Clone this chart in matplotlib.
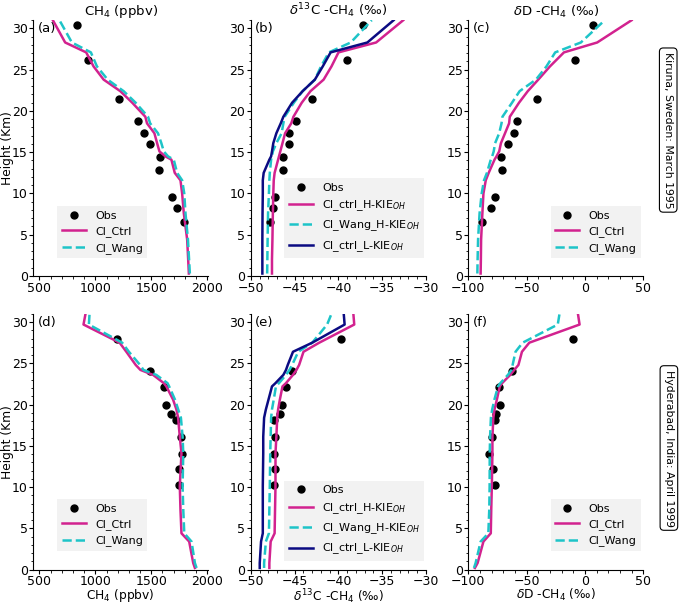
import matplotlib
matplotlib.use("Agg")
import matplotlib.pyplot as plt
from matplotlib.ticker import AutoMinorLocator, MultipleLocator

# ---------------- Kiruna, Sweden: March 1995 ----------------
kir_obs_z = [30.4, 26.2, 21.5, 18.8, 17.3, 16.0, 14.4, 12.9, 9.6, 8.3, 6.6]
kir_obs_ch4 = [835, 934, 1214, 1384, 1438, 1486, 1576, 1567, 1689, 1731, 1791]
kir_obs_d13c = [-37.2, -39.0, -43.0, -44.8, -45.6, -45.6, -46.3, -46.3, -47.3, -47.5, -47.8]
kir_obs_dd = [6.9, -8.9, -41.1, -58.3, -60.6, -65.8, -72.1, -70.7, -77.3, -80.7, -88.5]

kir_z = [0.3, 2.0, 4.4, 7.6, 10.0, 11.6, 12.5, 14.1, 14.5, 15.1, 16.1, 17.3, 18.5,
         19.3, 21.0, 22.4, 23.8, 25.4, 27.1, 28.3, 31.0]
kir_ch4_ctrl = [1836, 1830, 1821, 1791, 1776, 1761, 1710, 1680, 1626, 1573, 1552, 1528,
                1462, 1447, 1330, 1223, 1074, 984, 918, 730, 620]
kir_ch4_wang = [1845, 1838, 1828, 1806, 1795, 1776, 1731, 1701, 1650, 1612, 1590, 1560,
                1490, 1471, 1360, 1253, 1110, 1014, 960, 790, 679]
kir_d13c_ctrl_h = [-47.6, -47.6, -47.55, -47.5, -47.45, -47.4, -47.3, -46.9, -46.8, -46.65,
                   -46.4, -46.1, -45.4, -45.15, -44.2, -43.2, -41.7, -40.8, -40.0, -35.7, -32.6]
kir_d13c_wang_h = [-48.15, -48.13, -48.1, -48.05, -47.95, -47.9, -47.85, -47.7, -47.6, -47.5,
                   -47.1, -46.5, -46.3, -46.15, -45.1, -44.1, -42.7, -42.0, -41.1, -38.6, -36.2]
kir_d13c_ctrl_l = [-48.7, -48.7, -48.7, -48.68, -48.65, -48.65, -48.55, -47.9, -47.7, -47.6,
                   -47.45, -47.1, -46.6, -46.3, -45.3, -44.1, -42.7, -41.8, -40.9, -36.7, -33.7]
kir_dd_ctrl = [-89.4, -89.2, -89.0, -87.9, -87.0, -85.0, -82.5, -77.5, -75.8, -73.5, -72.0,
               -68.5, -65.0, -64.4, -56.5, -49.0, -40.0, -30.0, -18.0, 10.5, 40.0]
kir_dd_wang = [-92.2, -92.0, -91.6, -90.3, -88.5, -86.5, -84.0, -80.7, -79.5, -78.2, -77.0,
               -73.5, -71.5, -70.7, -62.5, -56.0, -42.0, -33.0, -25.5, -3.5, 17.0]

# ---------------- Hyderabad, India: April 1999 ----------------
hyd_obs_z = [27.9, 24.1, 22.1, 19.9, 18.85, 18.1, 16.1, 14.0, 12.2, 10.2]
hyd_obs_ch4 = [1193, 1486, 1614, 1635, 1674, 1719, 1764, 1773, 1746, 1746]
hyd_obs_d13c = [-39.7, -45.3, -46.0, -46.5, -46.7, -47.4, -47.2, -47.4, -47.3, -47.4]
hyd_obs_dd = [-10.3, -62.1, -73.6, -72.7, -76.4, -77.3, -79.3, -82.2, -78.4, -77.0]

hyd_z = [0.2, 0.8, 3.4, 4.4, 7.3, 10.1, 14.1, 16.1, 18.4, 19.4, 20.6, 22.2, 22.6, 23.6,
         24.2, 24.8, 26.4, 27.5, 29.7, 31.0]
hyd_ch4_ctrl = [1890, 1875, 1839, 1770, 1761, 1755, 1770, 1755, 1740, 1725, 1695, 1635,
                1612, 1516, 1403, 1361, 1277, 1217, 894, 912]
hyd_ch4_wang = [1905, 1890, 1860, 1795, 1786, 1780, 1786, 1780, 1765, 1741, 1712, 1660,
                1645, 1545, 1430, 1400, 1300, 1240, 942, 948]
hyd_d13c_ctrl_h = [-47.9, -47.9, -47.75, -47.3, -47.25, -47.2, -47.2, -47.1, -47.0, -46.9,
                   -46.7, -46.4, -46.0, -45.2, -44.8, -44.5, -44.0, -42.2, -38.2, -38.3]
hyd_d13c_wang_h = [-48.5, -48.5, -48.3, -47.95, -47.9, -47.85, -47.8, -47.75, -47.7, -47.6,
                   -47.4, -47.15, -46.8, -46.0, -45.6, -45.3, -44.6, -43.0, -41.3, -40.8]
hyd_d13c_ctrl_l = [-49.0, -49.0, -48.85, -48.65, -48.65, -48.65, -48.6, -48.6, -48.5, -48.3,
                   -48.0, -47.6, -47.2, -46.3, -46.0, -45.8, -45.2, -43.0, -39.3, -39.4]
hyd_dd_ctrl = [-94.3, -92.0, -87.0, -80.7, -80.3, -79.8, -79.3, -79.3, -78.5, -77.5, -75.5,
               -73.0, -71.0, -64.0, -60.6, -57.0, -54.0, -47.7, -4.6, -6.0]
hyd_dd_wang = [-95.1, -93.7, -89.4, -82.8, -82.0, -81.7, -81.6, -81.3, -80.6, -79.5, -77.6,
               -74.5, -72.5, -66.0, -63.0, -62.0, -59.5, -53.4, -23.3, -21.8]

panel_letters = ["(a)", "(b)", "(c)", "(d)", "(e)", "(f)"]
col_titles = ["CH$_4$ (ppbv)", r"$\delta^{13}$C -CH$_4$ (‰)", r"$\delta$D -CH$_4$ (‰)"]
site_labels = ["Kiruna, Sweden: March 1995", "Hyderabad, India: April 1999"]

C_CTRL = "#d2228f"
C_WANG = "#1ec4c8"
C_LOW = "#0b0b82"

plt.rcParams["font.family"] = ["DejaVu Sans"]
plt.rcParams["font.size"] = 9

fig = plt.figure(figsize=(6.85, 6.05), dpi=100)
lefts = [0.0486, 0.3664, 0.6836]
width = 0.2555
bottoms = [0.5438, 0.0585]
height = 0.4228

axes = [[fig.add_axes([l, b, width, height]) for l in lefts] for b in bottoms]

xlims = [(445, 2010), (-50, -30), (-100, 50)]
xmajor = [500, 5, 50]


def style(ax, col):
    ax.set_ylim(0, 31)
    ax.set_xlim(*xlims[col])
    ax.xaxis.set_major_locator(MultipleLocator(xmajor[col]))
    ax.yaxis.set_major_locator(MultipleLocator(5))
    ax.xaxis.set_minor_locator(AutoMinorLocator())
    ax.yaxis.set_minor_locator(AutoMinorLocator())
    for s in ["top", "right"]:
        ax.spines[s].set_visible(False)
    ax.tick_params(which="major", labelsize=9, pad=1, length=3)
    ax.tick_params(which="minor", length=1.8)


leg_kw = dict(fontsize=8, numpoints=1, handlelength=2.2, fancybox=False,
              facecolor="#f2f2f2", edgecolor="none", framealpha=1, borderaxespad=0)

data = [
    dict(obs_z=kir_obs_z, obs=[kir_obs_ch4, kir_obs_d13c, kir_obs_dd], z=kir_z,
         ch4=[kir_ch4_ctrl, kir_ch4_wang],
         d13c=[kir_d13c_ctrl_h, kir_d13c_wang_h, kir_d13c_ctrl_l],
         dd=[kir_dd_ctrl, kir_dd_wang], legy=[0.07, 0.07, 0.07]),
    dict(obs_z=hyd_obs_z, obs=[hyd_obs_ch4, hyd_obs_d13c, hyd_obs_dd], z=hyd_z,
         ch4=[hyd_ch4_ctrl, hyd_ch4_wang],
         d13c=[hyd_d13c_ctrl_h, hyd_d13c_wang_h, hyd_d13c_ctrl_l],
         dd=[hyd_dd_ctrl, hyd_dd_wang], legy=[0.073, 0.034, 0.073]),
]

for r, d in enumerate(data):
    z = d["z"]
    # CH4
    ax = axes[r][0]
    ax.plot(d["obs"][0], d["obs_z"], "o", color="k", ms=5, label="Obs")
    ax.plot(d["ch4"][0], z, "-", color=C_CTRL, lw=1.8, label="Cl_Ctrl")
    ax.plot(d["ch4"][1], z, "--", color=C_WANG, lw=1.8, label="Cl_Wang")
    ax.legend(loc="lower left", bbox_to_anchor=(0.137, d["legy"][0]), **leg_kw)
    # d13C
    ax = axes[r][1]
    ax.plot(d["obs"][1], d["obs_z"], "o", color="k", ms=5, label="Obs")
    ax.plot(d["d13c"][0], z, "-", color=C_CTRL, lw=1.8, label="Cl_ctrl_H-KIE$_{OH}$")
    ax.plot(d["d13c"][1], z, "--", color=C_WANG, lw=1.8, label="Cl_Wang_H-KIE$_{OH}$")
    ax.plot(d["d13c"][2], z, "-", color=C_LOW, lw=1.8, label="Cl_ctrl_L-KIE$_{OH}$")
    ax.legend(loc="lower right", bbox_to_anchor=(0.99, d["legy"][1]), **leg_kw)
    # dD
    ax = axes[r][2]
    ax.plot(d["obs"][2], d["obs_z"], "o", color="k", ms=5, label="Obs")
    ax.plot(d["dd"][0], z, "-", color=C_CTRL, lw=1.8, label="Cl_Ctrl")
    ax.plot(d["dd"][1], z, "--", color=C_WANG, lw=1.8, label="Cl_Wang")
    ax.legend(loc="lower right", bbox_to_anchor=(0.985, d["legy"][2]), **leg_kw)

k = 0
for r in range(2):
    for c in range(3):
        ax = axes[r][c]
        style(ax, c)
        ax.text(0.025, 0.966, panel_letters[k], transform=ax.transAxes,
                ha="left", va="center", fontsize=9.5)
        k += 1
        if r == 0:
            ax.set_title(col_titles[c], fontsize=9.5, pad=3)
        else:
            ax.set_xlabel(col_titles[c], fontsize=8.8)
            ax.xaxis.set_label_coords(0.5, -0.068)
    axes[r][0].set_ylabel("Height (Km)", fontsize=8.8)
    axes[r][0].yaxis.set_label_coords(-0.113, 0.5)

box = dict(boxstyle="round,pad=0.35", facecolor="white", edgecolor="black", lw=0.8)
fig.text(0.9755, 0.785, site_labels[0], rotation=-90, ha="center", va="center",
         fontsize=7.8, bbox=box)
fig.text(0.9765, 0.2595, site_labels[1], rotation=-90, ha="center", va="center",
         fontsize=7.8, bbox=box)

fig.savefig("out.png", dpi=100)
